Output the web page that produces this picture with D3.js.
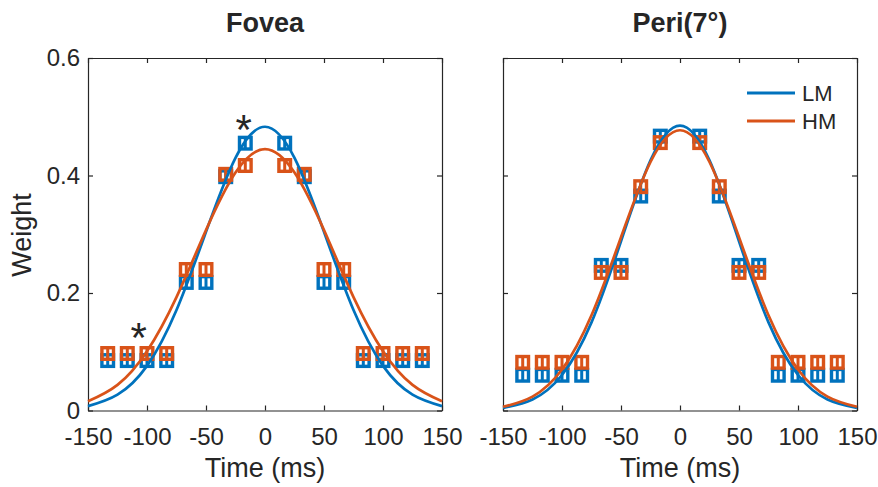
<!DOCTYPE html>
<html>
<head>
<meta charset="utf-8">
<script src="https://d3js.org/d3.v7.min.js"></script>
<style>
  body { margin: 0; background: #fff; }
  text { font-family: "Liberation Sans", Arial, sans-serif; fill: #262626; }
</style>
</head>
<body>
<svg id="chart" width="878" height="487"></svg>
<script>
// frame times (ms), one frame = 1000/60 ms
var times = [-133.3, -116.7, -100, -83.3, -66.7, -50, -33.3, -16.7,
             16.7, 33.3, 50, 66.7, 83.3, 100, 116.7, 133.3];

var foveaLM = [0.085, 0.085, 0.085, 0.085, 0.218, 0.218, 0.398, 0.455,
               0.455, 0.398, 0.218, 0.218, 0.085, 0.085, 0.085, 0.085];
var foveaHM = [0.097, 0.097, 0.097, 0.097, 0.240, 0.240, 0.402, 0.417,
               0.417, 0.402, 0.240, 0.240, 0.097, 0.097, 0.097, 0.097];
var periLM  = [0.060, 0.060, 0.060, 0.060, 0.247, 0.247, 0.365, 0.467,
               0.467, 0.365, 0.247, 0.247, 0.060, 0.060, 0.060, 0.060];
var periHM  = [0.082, 0.082, 0.082, 0.082, 0.235, 0.235, 0.381, 0.456,
               0.456, 0.381, 0.235, 0.235, 0.082, 0.082, 0.082, 0.082];

// fitted curves, read at 25 ms steps
var fitTimes = [-150, -125, -100, -75, -50, -25, 0, 25, 50, 75, 100, 125, 150];
var foveaLMfit = [0.0075, 0.027, 0.076, 0.171, 0.304, 0.430, 0.483, 0.430, 0.304, 0.171, 0.076, 0.027, 0.0075];
var foveaHMfit = [0.0157, 0.0436, 0.101, 0.193, 0.307, 0.405, 0.445, 0.405, 0.307, 0.193, 0.101, 0.0436, 0.0157];
var periLMfit  = [0.0045, 0.0187, 0.0604, 0.150, 0.288, 0.426, 0.485, 0.426, 0.288, 0.150, 0.0604, 0.0187, 0.0045];
var periHMfit  = [0.0063, 0.0237, 0.0698, 0.162, 0.295, 0.423, 0.477, 0.423, 0.295, 0.162, 0.0698, 0.0237, 0.0063];

var xTicks = [-150, -100, -50, 0, 50, 100, 150];
var yTicks = [0, 0.2, 0.4, 0.6];
var seriesNames = ["LM", "HM"];
var colors = {LM: "#0072BD", HM: "#D95319"};

// significance stars (Fovea panel)
var stars = [{t: -18, w: 0.49}, {t: -107, w: 0.136}];

var svg = d3.select("#chart");
svg.append("rect").attr("width", 878).attr("height", 487).attr("fill", "#fff");

var y = d3.scaleLinear().domain([0, 0.6]).range([410.5, 58]);

var panels = [
  {title: "Fovea", left: 88, right: 442, lm: foveaLM, hm: foveaHM, lmFit: foveaLMfit, hmFit: foveaHMfit, yLabels: true, stars: stars},
  {title: "Peri(7°)", left: 503, right: 857, lm: periLM, hm: periHM, lmFit: periLMfit, hmFit: periHMfit, yLabels: false, stars: [], legend: true}
];

panels.forEach(function(p) {
  var x = d3.scaleLinear().domain([-150, 150]).range([p.left, p.right]);
  var g = svg.append("g");

  // axes (inward ticks, box)
  var fmt = function(d) { return String(d); };
  var bottom = g.append("g").attr("transform", "translate(0," + y(0) + ")")
    .call(d3.axisBottom(x).tickValues(xTicks).tickFormat(fmt).tickSizeInner(-5).tickSizeOuter(0).tickPadding(17));
  var top = g.append("g").attr("transform", "translate(0," + y(0.6) + ")")
    .call(d3.axisTop(x).tickValues(xTicks).tickFormat("").tickSizeInner(-5).tickSizeOuter(0));
  var leftAx = g.append("g").attr("transform", "translate(" + p.left + ",0)")
    .call(d3.axisLeft(y).tickValues(yTicks).tickFormat(p.yLabels ? fmt : "").tickSizeInner(-5).tickSizeOuter(0).tickPadding(8));
  var rightAx = g.append("g").attr("transform", "translate(" + p.right + ",0)")
    .call(d3.axisRight(y).tickValues(yTicks).tickFormat("").tickSizeInner(-5).tickSizeOuter(0));
  [bottom, top, leftAx, rightAx].forEach(function(a) {
    a.selectAll("path, line").attr("stroke", "#262626").attr("stroke-width", 1.2);
    a.selectAll("text").style("font-size", "24px").attr("fill", "#262626")
      .style("font-family", "'Liberation Sans', Arial, sans-serif");
  });

  // markers: square with a vertical bar in the middle
  function markers(vals, color) {
    var m = g.append("g").selectAll("g").data(times).enter().append("g")
      .attr("transform", function(t, i) { return "translate(" + x(t) + "," + y(vals[i]) + ")"; });
    m.append("rect").attr("x", -5.8).attr("y", -5.8).attr("width", 11.6).attr("height", 11.6)
      .attr("fill", "none").attr("stroke", color).attr("stroke-width", 3.4);
    m.append("line").attr("x1", 0).attr("x2", 0).attr("y1", -5.8).attr("y2", 5.8)
      .attr("stroke", color).attr("stroke-width", 3);
  }
  markers(p.lm, colors.LM);
  markers(p.hm, colors.HM);

  // fitted curves
  var line = d3.line()
    .x(function(d, i) { return x(fitTimes[i]); })
    .y(function(d) { return y(d); })
    .curve(d3.curveNatural);
  g.append("path").datum(p.lmFit).attr("d", line)
    .attr("fill", "none").attr("stroke", colors.LM).attr("stroke-width", 2.7);
  g.append("path").datum(p.hmFit).attr("d", line)
    .attr("fill", "none").attr("stroke", colors.HM).attr("stroke-width", 2.7);

  // stars
  g.selectAll(".star").data(p.stars).enter().append("text")
    .attr("x", function(d) { return x(d.t); })
    .attr("y", function(d) { return y(d.w) + 21; })
    .attr("text-anchor", "middle")
    .style("font-size", "42px").attr("fill", "#000").text("*");

  // titles and labels
  g.append("text").attr("x", (p.left + p.right) / 2).attr("y", 32)
    .attr("text-anchor", "middle").style("font-size", "27px").style("font-weight", "bold")
    .attr("fill", "#000").text(p.title);
  g.append("text").attr("x", (p.left + p.right) / 2).attr("y", 477)
    .attr("text-anchor", "middle").style("font-size", "27px").text("Time (ms)");

  if (p.legend) {
    var lg = g.append("g").selectAll("g").data(seriesNames).enter().append("g")
      .attr("transform", function(d, i) { return "translate(747," + (93 + i * 28) + ")"; });
    lg.append("line").attr("x1", 0).attr("x2", 48).attr("stroke", function(d) { return colors[d]; })
      .attr("stroke-width", 3);
    lg.append("text").attr("x", 55).attr("dy", "0.36em").style("font-size", "22px").text(function(d) { return d; });
  }
});

svg.append("text").attr("transform", "translate(31,235) rotate(-90)")
  .attr("text-anchor", "middle").style("font-size", "27px").text("Weight");
</script>
</body>
</html>
